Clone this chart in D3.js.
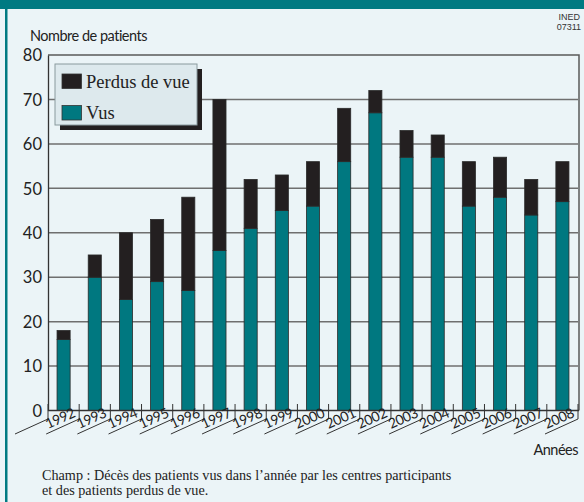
<!DOCTYPE html>
<html><head><meta charset="utf-8">
<script src="https://cdn.jsdelivr.net/npm/d3@7"></script>
<style>
body{margin:0;padding:0;background:#ebf4f7;}
svg{display:block;}
</style></head>
<body>
<svg id="chart" width="584" height="502"></svg>
<script>
const years = ["1992","1993","1994","1995","1996","1997","1998","1999","2000","2001","2002","2003","2004","2005","2006","2007","2008"];
const vus =    [16,30,25,29,27,36,41,45,46,56,67,57,57,46,48,44,47];
const perdus = [2, 5, 15,14,21,34,11, 8,10,12, 5, 6, 5,10, 9, 8, 9];
const yTicks = [0,10,20,30,40,50,60,70,80];
const seriesNames = ["Perdus de vue","Vus"];

const teal = "#007880", dark = "#231f20", bg = "#ebf4f7";
const sans = "Lato, 'Open Sans', sans-serif";
const svg = d3.select("#chart");
svg.append("rect").attr("width",584).attr("height",502).attr("fill",bg);
svg.append("rect").attr("x",0).attr("y",0).attr("width",584).attr("height",9).attr("fill","#007a82");
svg.append("rect").attr("x",5).attr("y",0).attr("width",2.5).attr("height",502).attr("fill","#007a82");

const L = 48, R = 578, T = 55, B = 410.5;
const x = d3.scaleBand().domain(years).range([L,R]).paddingInner(0.58).paddingOuter(0.29);
const y = d3.scaleLinear().domain([0,80]).range([B,T]);

// gridlines
svg.append("g").selectAll("line").data(yTicks.filter(t=>t>0 && t<80)).join("line")
  .attr("x1",L).attr("x2",R).attr("y1",d=>y(d)).attr("y2",d=>y(d))
  .attr("stroke","#6f6f6f").attr("stroke-width",1.5);

// frame top + right
svg.append("path").attr("d",`M${L},${y(80)}H${R+1}V${B}`).attr("fill","none").attr("stroke","#5a5a5a").attr("stroke-width",1.5);

// y axis
const yAxis = d3.axisLeft(y).tickValues(yTicks).tickSize(0).tickPadding(6);
const gy = svg.append("g").attr("transform",`translate(${L},0)`).call(yAxis);
gy.select(".domain").attr("stroke","#333").attr("stroke-width",1.3);
gy.selectAll("text").attr("font-family",sans).attr("font-size",16.5).attr("fill","#222").attr("dy","0.35em");

// stacked bars
const data = years.map((yr,i)=>({year:yr, vus:vus[i], perdus:perdus[i]}));
const stack = d3.stack().keys(["vus","perdus"])(data);
const colors = {vus:teal, perdus:dark};
svg.append("g").selectAll("g").data(stack).join("g")
  .attr("fill",d=>colors[d.key])
  .selectAll("rect").data(d=>d).join("rect")
  .attr("x",d=>x(d.data.year)).attr("width",x.bandwidth())
  .attr("y",d=>y(d[1])).attr("height",d=>y(d[0])-y(d[1]))
  .attr("stroke","#2a2a2a").attr("stroke-width",0.8);

// zero baseline
svg.append("line").attr("x1",L).attr("x2",R+1).attr("y1",B).attr("y2",B).attr("stroke","#333").attr("stroke-width",1.3);

// x axis ticks & slanted lines
const step = x.step();
const bounds = d3.range(years.length+1).map(i=>L+i*step);
const gx = svg.append("g");
gx.selectAll("line.t").data(bounds).join("line").attr("class","t")
  .attr("x1",d=>d).attr("x2",d=>d).attr("y1",404).attr("y2",419)
  .attr("stroke","#333").attr("stroke-width",1);
gx.selectAll("line.s").data(bounds).join("line").attr("class","s")
  .attr("x1",d=>d).attr("y1",419).attr("x2",d=>d-33).attr("y2",434)
  .attr("stroke","#333").attr("stroke-width",1);
gx.selectAll("text").data(years).join("text")
  .attr("transform",d=>`translate(${x(d)+x.bandwidth()/2+step/2-3},${416.5}) rotate(-24)`)
  .attr("text-anchor","end").attr("font-family",sans).attr("font-size",14).attr("letter-spacing",-0.4).attr("fill","#222")
  .text(d=>d);

// labels
svg.append("text").attr("x",30).attr("y",41).attr("font-family",sans).attr("font-size",14.5).attr("letter-spacing",-0.5).attr("fill","#222").text("Nombre de patients");
svg.append("text").attr("x",580).attr("y",20).attr("text-anchor","end").attr("font-family","'Liberation Sans Narrow', 'Liberation Sans', sans-serif").attr("font-size",9).attr("fill","#333").text("INED");
svg.append("text").attr("x",581).attr("y",30).attr("text-anchor","end").attr("font-family","'Liberation Sans Narrow', 'Liberation Sans', sans-serif").attr("font-size",9).attr("fill","#333").text("07311");
svg.append("text").attr("x",578).attr("y",455).attr("text-anchor","end").attr("font-family",sans).attr("font-size",14.5).attr("letter-spacing",-0.5).attr("fill","#222").text("Années");
svg.append("text").attr("x",42).attr("y",480).attr("font-family","'Liberation Serif', serif").attr("font-size",14.2).attr("fill","#222").text("Champ : Décès des patients vus dans l’année par les centres participants");
svg.append("text").attr("x",42).attr("y",495).attr("font-family","'Liberation Serif', serif").attr("font-size",14.2).attr("fill","#222").text("et des patients perdus de vue.");

// legend
const lg = svg.append("g");
lg.append("rect").attr("x",60).attr("y",69).attr("width",142).attr("height",61).attr("fill",dark);
lg.append("rect").attr("x",55).attr("y",64).attr("width",142).attr("height",61).attr("fill","#dde9ed").attr("stroke","#8a9a9e").attr("stroke-width",1);
const legColors = [dark, teal];
seriesNames.forEach((n,i)=>{
  lg.append("rect").attr("x",62).attr("y",74+i*31.5).attr("width",19.5).attr("height",14.5).attr("fill",legColors[i]).attr("stroke","#333").attr("stroke-width",0.8);
  lg.append("text").attr("x",86).attr("y",87.5+i*31.5).attr("font-family","'Liberation Serif', serif").attr("font-size",18.5).attr("fill","#222").text(n);
});
</script>
</body></html>
